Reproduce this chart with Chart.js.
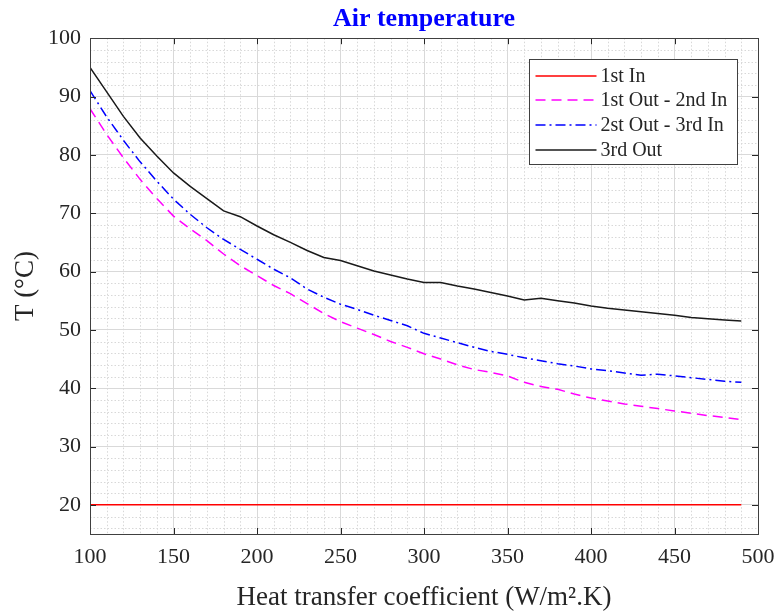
<!DOCTYPE html>
<html>
<head>
<meta charset="utf-8">
<title>Air temperature</title>
<script src="https://cdn.jsdelivr.net/npm/chart.js@4.4.1/dist/chart.umd.min.js"></script>
<style>
  html, body { margin: 0; padding: 0; background: #fff; }
  #chartCanvas { display: block; }
</style>
</head>
<body>
<canvas id="chartCanvas" width="780" height="615"></canvas>
<script>
"use strict";

// heat transfer coefficient (W/m2.K)
const hValues = [100, 110, 120, 130, 140, 150, 160, 170, 180, 190,
                 200, 210, 220, 230, 240, 250, 260, 270, 280, 290,
                 300, 310, 320, 330, 340, 350, 360, 370, 380, 390,
                 400, 410, 420, 430, 440, 450, 460, 470, 480, 490];

// air temperatures (°C)
const firstIn = [20, 20, 20, 20, 20, 20, 20, 20, 20, 20,
                 20, 20, 20, 20, 20, 20, 20, 20, 20, 20,
                 20, 20, 20, 20, 20, 20, 20, 20, 20, 20,
                 20, 20, 20, 20, 20, 20, 20, 20, 20, 20];
const firstOut = [87.9, 83.5, 79.5, 75.8, 72.5, 69.5, 67.3, 65.3, 63.0, 61.0,
                  59.3, 57.6, 56.2, 54.5, 52.8, 51.4, 50.3, 49.2, 48.0, 47.0,
                  45.9, 45.0, 44.0, 43.2, 42.7, 42.1, 41.0, 40.3, 39.8, 39.0,
                  38.3, 37.8, 37.3, 36.9, 36.5, 36.1, 35.7, 35.3, 35.0, 34.6];
const secondOut = [91.0, 86.5, 82.5, 78.8, 75.5, 72.4, 69.8, 67.5, 65.5, 63.8,
                   62.1, 60.4, 58.9, 57.0, 55.6, 54.4, 53.5, 52.5, 51.6, 50.7,
                   49.4, 48.6, 47.8, 47.0, 46.3, 45.8, 45.2, 44.7, 44.2, 43.8,
                   43.3, 43.0, 42.6, 42.2, 42.4, 42.1, 41.8, 41.5, 41.2, 41.0];
const thirdOut = [95.0, 90.8, 86.6, 82.9, 79.8, 76.9, 74.6, 72.5, 70.4, 69.4,
                  67.8, 66.3, 65.0, 63.6, 62.4, 61.9, 61.0, 60.1, 59.4, 58.7,
                  58.1, 58.1, 57.5, 57.0, 56.4, 55.8, 55.1, 55.4, 55.0, 54.6,
                  54.1, 53.7, 53.4, 53.1, 52.8, 52.5, 52.1, 51.9, 51.7, 51.5];

const seriesLabels = ['1st In', '1st Out - 2nd In', '2st Out - 3rd In', '3rd Out'];

const FONT = "'Liberation Serif', 'Times New Roman', serif";
const INK = '#262626';

function toPoints(values) {
    return hValues.map((h, i) => ({ x: h, y: values[i] }));
}

// minor grid, box outline and inward ticks like a MATLAB axes
const matlabFrame = {
    id: 'matlabFrame',
    beforeDatasetsDraw(chart) {
        const { ctx, chartArea: a, scales: { x, y } } = chart;
        ctx.save();
        ctx.strokeStyle = '#d8d8d8';
        ctx.lineWidth = 1;
        ctx.setLineDash([1.5, 2]);
        ctx.beginPath();
        for (let v = 110; v < 500; v += 10) {
            if (v % 50 === 0) continue;
            const px = Math.round(x.getPixelForValue(v)) + 0.5;
            ctx.moveTo(px, a.top);
            ctx.lineTo(px, a.bottom);
        }
        for (let v = 16; v < 100; v += 2) {
            if (v % 10 === 0) continue;
            const py = Math.round(y.getPixelForValue(v)) + 0.5;
            ctx.moveTo(a.left, py);
            ctx.lineTo(a.right, py);
        }
        ctx.stroke();
        ctx.restore();
    },
    afterDatasetsDraw(chart) {
        const { ctx, chartArea: a, scales: { x, y } } = chart;
        const len = 6;
        ctx.save();
        ctx.strokeStyle = INK;
        ctx.lineWidth = 1;
        ctx.beginPath();
        x.ticks.forEach(t => {
            const px = Math.round(x.getPixelForValue(t.value)) + 0.5;
            ctx.moveTo(px, a.bottom); ctx.lineTo(px, a.bottom - len);
            ctx.moveTo(px, a.top); ctx.lineTo(px, a.top + len);
        });
        y.ticks.forEach(t => {
            const py = Math.round(y.getPixelForValue(t.value)) + 0.5;
            ctx.moveTo(a.left, py); ctx.lineTo(a.left + len, py);
            ctx.moveTo(a.right, py); ctx.lineTo(a.right - len, py);
        });
        ctx.stroke();
        ctx.strokeStyle = '#404040';
        ctx.strokeRect(Math.round(a.left) + 0.5, Math.round(a.top) + 0.5,
                       Math.round(a.right - a.left), Math.round(a.bottom - a.top));
        ctx.restore();
    },
    afterDraw(chart) {
        // legend box in the upper right corner
        const { ctx, chartArea: a } = chart;
        const w = 208, h = 105;
        const left = Math.round(a.right - 21 - w) + 0.5;
        const top = Math.round(a.top + 21) + 0.5;
        ctx.save();
        ctx.fillStyle = '#ffffff';
        ctx.fillRect(left, top, w, h);
        ctx.strokeStyle = '#404040';
        ctx.lineWidth = 1;
        ctx.strokeRect(left, top, w, h);
        ctx.font = '20px ' + FONT;
        ctx.textBaseline = 'middle';
        ctx.textAlign = 'left';
        chart.data.datasets.forEach((ds, i) => {
            const ry = Math.round(top + 16 + i * 24.7);
            ctx.strokeStyle = ds.borderColor;
            ctx.lineWidth = ds.borderWidth;
            ctx.setLineDash(ds.borderDash || []);
            ctx.beginPath();
            ctx.moveTo(left + 6, ry);
            ctx.lineTo(left + 67, ry);
            ctx.stroke();
            ctx.setLineDash([]);
            ctx.fillStyle = INK;
            ctx.fillText(ds.label, left + 71, ry + 1);
        });
        ctx.restore();
    }
};

const ctx = document.getElementById('chartCanvas');

const data = {
    datasets: [{
        label: seriesLabels[0],
        data: toPoints(firstIn),
        borderColor: '#ff0000',
        borderWidth: 1.5,
        borderDash: []
    },
    {
        label: seriesLabels[1],
        data: toPoints(firstOut),
        borderColor: '#ff00ff',
        borderWidth: 1.5,
        borderDash: [10, 6]
    },
    {
        label: seriesLabels[2],
        data: toPoints(secondOut),
        borderColor: '#0000ff',
        borderWidth: 1.5,
        borderDash: [10, 4, 2, 4]
    },
    {
        label: seriesLabels[3],
        data: toPoints(thirdOut),
        borderColor: '#1a1a1a',
        borderWidth: 1.5,
        borderDash: []
    }]
};

const config = {
    type: 'line',
    data: data,
    options: {
        responsive: false,
        animation: false,
        elements: {
            point: { radius: 0 },
            line: { tension: 0, fill: false }
        },
        layout: { padding: { left: 0, right: 22, top: 0, bottom: 0 } },
        plugins: {
            legend: { display: false },
            tooltip: { enabled: false },
            title: {
                display: true,
                fullSize: false,
                text: 'Air temperature',
                color: '#0000ff',
                font: { family: FONT, size: 26, weight: 'bold' },
                padding: { top: 4, bottom: 3 }
            }
        },
        scales: {
            x: {
                type: 'linear',
                min: 100,
                max: 500,
                ticks: {
                    stepSize: 50,
                    color: INK,
                    padding: 10,
                    maxRotation: 0,
                    font: { family: FONT, size: 22 }
                },
                grid: { color: '#d9d9d9', drawTicks: false },
                border: { color: '#404040' },
                title: {
                    display: true,
                    text: 'Heat transfer coefficient (W/m\u00B2.K)',
                    color: INK,
                    font: { family: FONT, size: 27 },
                    padding: { top: 0, bottom: 1 }
                },
                afterFit(scale) {
                    scale.height = 81;
                    scale.paddingLeft = 0;
                    scale.paddingRight = 0;
                }
            },
            y: {
                min: 15,
                max: 100,
                ticks: {
                    stepSize: 10,
                    includeBounds: false,
                    color: INK,
                    padding: 9,
                    font: { family: FONT, size: 22 }
                },
                grid: { color: '#d9d9d9', drawTicks: false },
                border: { color: '#404040' },
                title: {
                    display: true,
                    text: 'T (\u00B0C)',
                    color: INK,
                    font: { family: FONT, size: 27 },
                    padding: { top: 10, bottom: 0 }
                },
                afterFit(scale) { scale.width = 90; }
            }
        }
    },
    plugins: [matlabFrame]
};

console.log("Rendering air temperature chart");
new Chart(ctx, config);
</script>
</body>
</html>
